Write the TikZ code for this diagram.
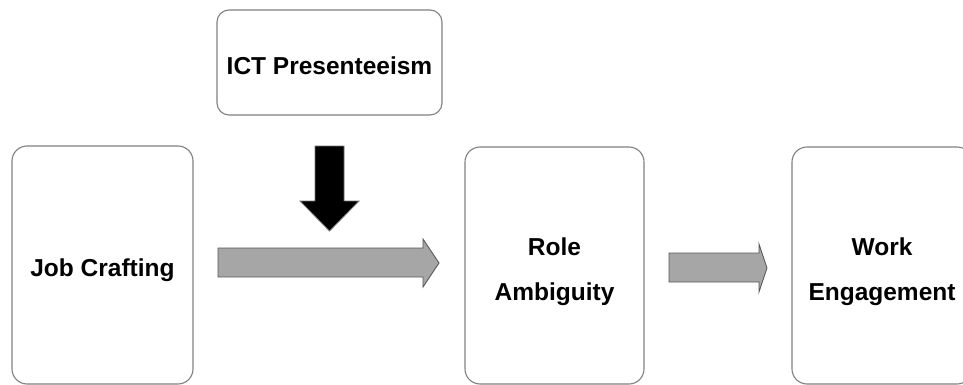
\documentclass[tikz,border=0pt]{standalone}
\usepackage{fontspec}
\setmainfont{Liberation Sans}
\begin{document}
\begin{tikzpicture}[x=1pt,y=-1pt,
  box/.style={draw=black!50,line width=1.1pt,rounded corners=15pt,fill=white,inner sep=0pt},
  lbl/.style={font=\bfseries\fontsize{24.5}{45}\selectfont,align=center,inner sep=0pt},
  grayarrow/.style={draw=black!65,fill=black!35,line width=0.9pt,line join=miter},
  blackarrow/.style={draw=black!55,fill=black,line width=0.8pt,line join=miter}]
\path[use as bounding box] (0,0) rectangle (963,385);
\node[box,rounded corners=12pt,minimum width=225pt,minimum height=105pt] (ict) at (329.5,62.5) {};
\node[box,minimum width=181pt,minimum height=238pt] (job) at (102.5,265) {};
\node[box,minimum width=179pt,minimum height=237pt] (role) at (554.5,265.5) {};
\node[box,minimum width=180pt,minimum height=237pt] (work) at (882,265.5) {};
\node[lbl] (ictT) at ([yshift=-3pt]ict.center) {ICT Presenteeism};
\node[lbl] (jobT) at ([yshift=-5pt]job.center) {Job Crafting};
\node[lbl] (roleT) at ([yshift=-6pt]role.center) {Role\\Ambiguity};
\node[lbl] (workT) at ([yshift=-6pt]work.center) {Work\\Engagement};
% black moderating arrow
\coordinate (bk) at (329.5,146);
\draw[blackarrow] ([xshift=-14.5pt]bk) -- ++(0,55) -- ++(-15,0) -- (329.5,231) -- (359,201) -- ++(-15,0) -- ([xshift=14.5pt]bk) -- cycle;
% gray arrow 1
\coordinate (a1) at (218,248);
\draw[grayarrow] (a1) -- (423,248) -- (423,239) -- (439,263) -- (423,287) -- (423,277) -- (218,277) -- cycle;
% gray arrow 2
\coordinate (a2) at (669,253);
\draw[grayarrow] (a2) -- (759,253) -- (759,244) -- (767,268) -- (759,292) -- (759,282) -- (669,282) -- cycle;
\end{tikzpicture}
\end{document}
